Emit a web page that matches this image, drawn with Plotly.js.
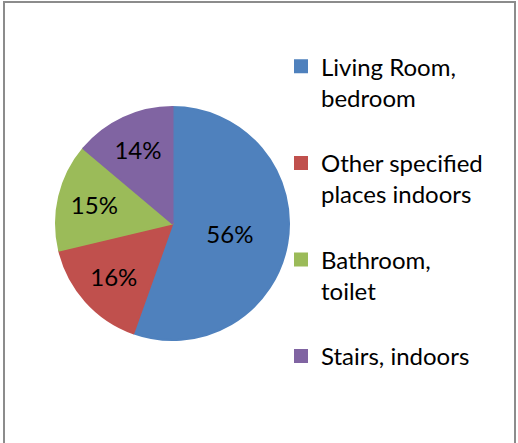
<!DOCTYPE html>
<html>
<head>
<meta charset="utf-8">
<script src="https://cdn.plot.ly/plotly-3.0.1.min.js"></script>
<style>html,body{margin:0;padding:0;background:#fff;}#chart{width:518px;height:443px;}</style>
</head>
<body>
<div id="chart"></div>
<script>
var categories = ["Living Room, bedroom", "Other specified places indoors", "Bathroom, toilet", "Stairs, indoors"];
var legendLabels = [" <br>Living Room,<br>bedroom", " <br>Other specified<br>places indoors", " <br>Bathroom,<br>toilet", " <br>Stairs, indoors<br> "];
var percentValues = [56, 16, 15, 14];
var sliceColors = ["#4F81BD", "#C0504D", "#9BBB59", "#8064A2"];

var W = 518, H = 443;
var cx = 172.5, cy = 223.5, R = 116.5;

var trace = {
  type: "pie",
  labels: legendLabels,
  values: percentValues,
  text: percentValues.map(function(v){ return v + "%"; }),
  textinfo: "text",
  texttemplate: "%{text}",
  textposition: "inside",
  insidetextorientation: "horizontal",
  sort: false,
  direction: "clockwise",
  rotation: 0,
  marker: {colors: sliceColors, line: {color: sliceColors, width: 2}},
  textfont: {family: "Lato, 'DejaVu Sans', sans-serif", size: 24, color: "#000"},
  domain: {x: [(cx - R) / W, (cx + R) / W], y: [1 - (cy + R) / H, 1 - (cy - R) / H]},
  hoverinfo: "none"
};

var layout = {
  width: W, height: H,
  margin: {l: 0, r: 0, t: 0, b: 0},
  paper_bgcolor: "#fff",
  showlegend: true,
  legend: {
    x: 281 / W, xanchor: "left",
    y: 1 - 13 / H, yanchor: "top",
    font: {family: "Lato, 'DejaVu Sans', sans-serif", size: 24, color: "#000"},
    bgcolor: "rgba(0,0,0,0)",
    borderwidth: 0
  },
  shapes: [{
    type: "rect", xref: "paper", yref: "paper",
    x0: 4 / W, x1: 515 / W, y0: -0.05, y1: 1 - 2 / H,
    line: {color: "#8c8c8c", width: 2}
  }]
};

Plotly.newPlot("chart", [trace], layout, {staticPlot: true, displayModeBar: false});
</script>
</body>
</html>
